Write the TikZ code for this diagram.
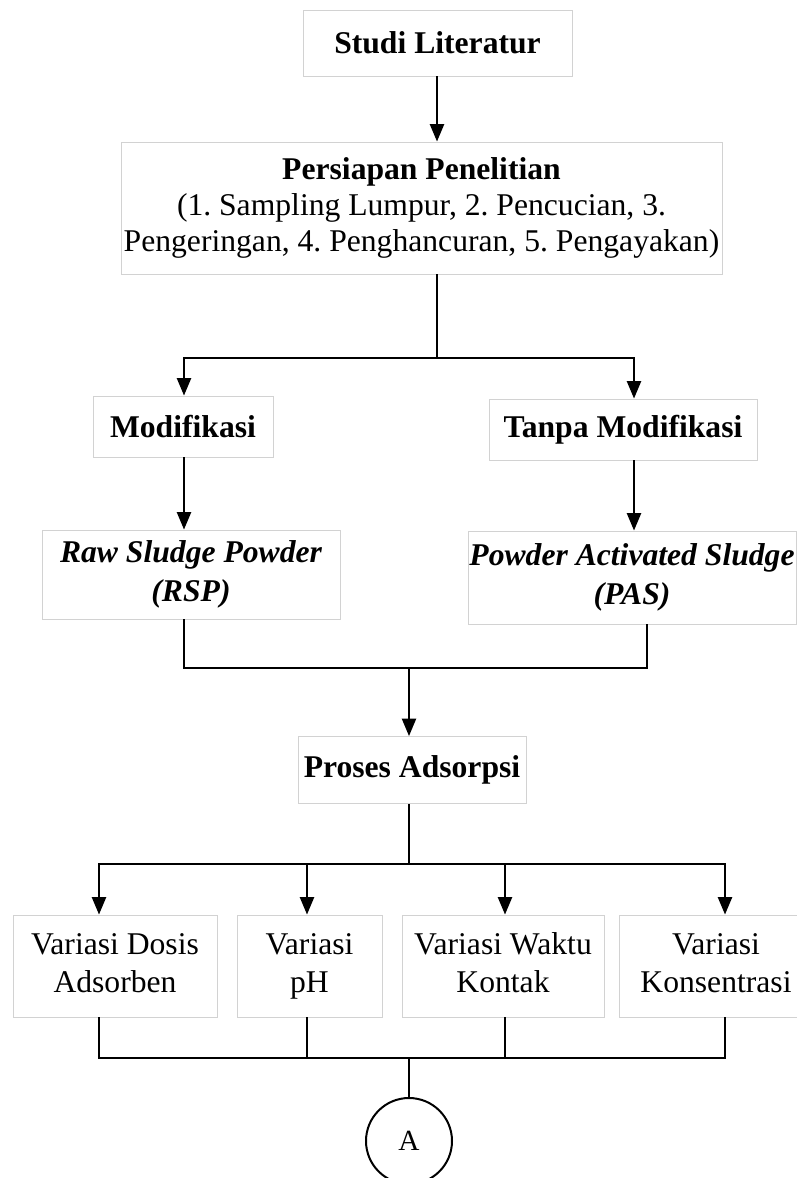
\documentclass[tikz,border=0pt]{standalone}
\usepackage{fontspec}
\setmainfont{Liberation Serif}
\usetikzlibrary{arrows.meta,calc,positioning}
\tikzset{
    box/.style      = {rectangle, draw=gray!35, line width=0.7pt, fill=white,
                       align=center, inner sep=0pt,
                       font=\fontsize{27}{31}\selectfont},
    headbox/.style  = {box, font=\fontsize{27}{31}\selectfont\bfseries},
    prodbox/.style  = {box, font=\fontsize{27}{33}\selectfont\bfseries\itshape},
    varbox/.style   = {box, minimum height=3.06cm, font=\fontsize{27}{32}\selectfont},
    arrow/.style    = {-{Triangle[length=15pt,width=12pt]}, line width=2pt},
    link/.style     = {line width=1.2pt},
    connector/.style = {circle, draw, line width=1.7pt, minimum size=2.58cm,
                        inner sep=0pt, font=\fontsize{25}{28}\selectfont}
}
\frenchspacing

\begin{document}
\begin{tikzpicture}[x=0.03cm, y=-0.03cm]
\useasboundingbox (0,0) rectangle (797,1178);

% ===== Top =====
\node[headbox, minimum width=8.07cm, minimum height=1.98cm] (studi) at (437.5,43)
   {Studi Literatur};
\node[box, minimum width=18.03cm, minimum height=3.96cm] (persiapan) at (421.5,208)
   {\textbf{Persiapan Penelitian}\\
    (1. Sampling Lumpur, 2. Pencucian, 3.\\
    Pengeringan, 4. Penghancuran, 5. Pengayakan)};

% ===== Two branches =====
\node[headbox, minimum width=5.4cm, minimum height=1.83cm] (modif) at (183,426.5)
   {Modifikasi};
\node[headbox, minimum width=8.04cm, minimum height=1.83cm] (tanpa) at (623,429.5)
   {Tanpa Modifikasi};
\node[prodbox, minimum width=8.94cm, minimum height=2.67cm] (rsp) at (191,574.5)
   {Raw Sludge Powder\\(RSP)};
\node[prodbox, minimum width=9.84cm, minimum height=2.79cm] (pas) at (632,577.5)
   {Powder Activated Sludge\\(PAS)};

% ===== Adsorption =====
\node[headbox, minimum width=6.84cm, minimum height=2.01cm] (proses) at (412,770)
   {Proses Adsorpsi};

% ===== Variations =====
\node[varbox, minimum width=6.12cm] (dosis)  at (115,966)   {Variasi Dosis\strut\\Adsorben\strut};
\node[varbox, minimum width=4.35cm] (ph)     at (309.5,966) {Variasi\strut\\pH\strut};
\node[varbox, minimum width=6.06cm] (waktu)  at (503,966)   {Variasi Waktu\strut\\Kontak\strut};
\node[varbox, minimum width=5.82cm] (konsen) at (716,966)   {Variasi\strut\\Konsentrasi\strut};

\node[connector] (circA) at (409,1141) {A};

% ===== Junctions =====
\coordinate (colL)   at (184,0);
\coordinate (colR)   at (634,0);
\coordinate (colPo)  at (647,0);
\coordinate (split1) at (437,358);
\coordinate (merge)  at (409,668);
\coordinate (split2) at (409,864);
\coordinate (join)   at (409,1058);

% ===== Connectors =====
\draw[arrow] (studi.south -| split1) -- (split1 |- persiapan.north);
\draw[link] (split1 |- persiapan.south) -- (split1);
\draw[arrow] (split1) -| (colL |- modif.north);
\draw[arrow] (split1) -| (colR |- tanpa.north);
\draw[arrow] (colL |- modif.south) -- (colL |- rsp.north);
\draw[arrow] (colR |- tanpa.south) -- (colR |- pas.north);

\draw[link] (colL |- rsp.south) |- (colPo |- merge) -- (colPo |- pas.south);
\draw[arrow] (merge) -- (merge |- proses.north);

\draw[link] (split2 |- proses.south) -- (split2);
\foreach \n/\x in {dosis/99, ph/307, waktu/505, konsen/725} {
  \coordinate (c-\n) at (\x,0);
  \draw[arrow] (split2) -| (c-\n |- \n.north);
  \draw[link] (c-\n |- \n.south) |- (join);
}
\draw[link] (join) -- (circA.north);

\end{tikzpicture}
\end{document}
